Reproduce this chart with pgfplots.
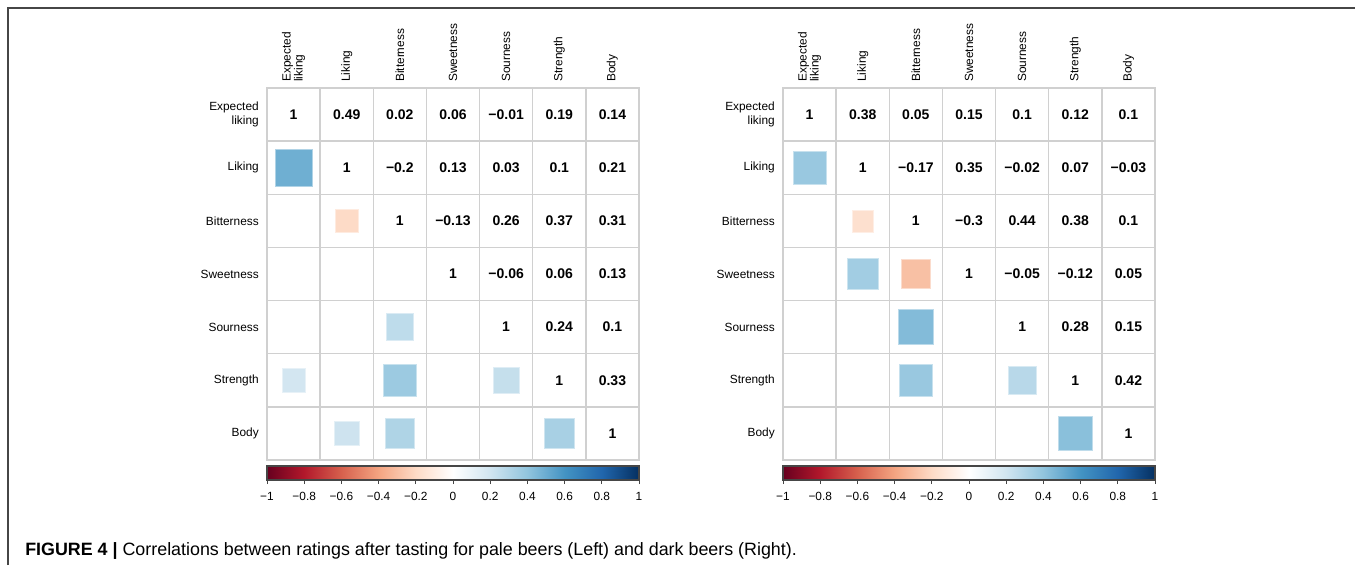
\documentclass[border=0pt]{standalone}
\usepackage{fontspec}
\setmainfont{Liberation Sans}
\usepackage{pgfplots}
\usepackage{pgfplotstable}
\pgfplotsset{compat=1.18}
\definecolor{gridgray}{RGB}{208,208,208}
\definecolor{framegray}{RGB}{70,70,70}
\pgfplotsset{
  colormap={rdbu}{rgb255=(103,0,31) rgb255=(178,24,43) rgb255=(214,96,77) rgb255=(244,165,130) rgb255=(253,219,199) rgb255=(255,255,255) rgb255=(209,229,240) rgb255=(146,197,222) rgb255=(67,147,195) rgb255=(33,102,172) rgb255=(5,48,97)},
  corrmat/.style={
    scale only axis, width=279pt, height=279pt,
    xmin=0.5, xmax=7.5, ymin=0.5, ymax=7.5,
    xtick={1,...,7}, ytick={1,...,7},
    minor xtick={0.5,1.5,...,7.5}, minor ytick={0.5,1.5,...,7.5},
    grid=minor, minor grid style={draw=gridgray, line width=1pt},
    axis line style={draw=gridgray, line width=1pt},
    major tick length=0pt, minor tick length=0pt,
    xticklabel pos=upper,
    xticklabels={{Expected\\liking},Liking,Bitterness,Sweetness,Sourness,Strength,Body},
    yticklabels={Body,Strength,Sourness,Sweetness,Bitterness,Liking,{Expected\\liking}},
    xticklabel style={rotate=90, anchor=west, align=left, font=\fontsize{8.9}{9}\selectfont, inner sep=0pt},
    xticklabel shift=4.5pt,
    yticklabel style={anchor=east, align=right, font=\fontsize{8.9}{10.5}\selectfont, inner sep=0pt},
    yticklabel shift=6pt,
    colormap name=rdbu, point meta min=-1, point meta max=1,
  },
  sq/.style={scatter, only marks, mark=square*, point meta=\thisrow{r},
    scatter/use mapped color={draw=mapped color!55!white, fill=mapped color},
    visualization depends on={sqrt(abs(\thisrow{r}))*19.9 \as \msz},
    scatter/@pre marker code/.append style={/tikz/mark size=\msz pt},
    mark options={line width=0.4pt}},
  nums/.style={only marks, mark=none, nodes near coords, point meta=explicit symbolic,
    nodes near coords style={anchor=center, text=black, font=\bfseries\fontsize{10.5}{12}\selectfont}},
  cbar/.style={scale only axis, width=279pt, height=10.5pt,
    xmin=-1, xmax=1, ymin=0, ymax=1, ytick=\empty,
    xtick={-1,-0.8,-0.6,-0.4,-0.2,0,0.2,0.4,0.6,0.8,1},
    xticklabels={−1,−0.8,−0.6,−0.4,−0.2,0,0.2,0.4,0.6,0.8,1},
    xtick pos=bottom, tick align=outside, major tick length=3pt,
    tick style={draw=framegray, line width=0.6pt},
    axis line style={draw=framegray, line width=0.9pt},
    xticklabel style={font=\fontsize{8.9}{10}\selectfont, inner sep=0pt},
    xticklabel shift=6pt,
    axis on top,
    colormap name=rdbu, point meta min=-1, point meta max=1},
}
% colour bar samples
\pgfplotstableread{
x y
-1 0
-0.8 0
-0.6 0
-0.4 0
-0.2 0
0 0
0.2 0
0.4 0
0.6 0
0.8 0
1 0
-1 1
-0.8 1
-0.6 1
-0.4 1
-0.2 1
0 1
0.2 1
0.4 1
0.6 1
0.8 1
1 1
}\cbdata
% pale beers: significant correlations (squares)
\pgfplotstableread{
col row r
1 2 0.49
2 3 -0.2
3 5 0.26
1 6 0.19
3 6 0.37
5 6 0.24
2 7 0.21
3 7 0.31
6 7 0.33
}\sqL
% dark beers
\pgfplotstableread{
col row r
1 2 0.38
2 3 -0.17
2 4 0.35
3 4 -0.3
3 5 0.44
3 6 0.38
5 6 0.28
6 7 0.42
}\sqR
\pgfplotstableread{
col row t
1 1 1
2 1 0.49
3 1 0.02
4 1 0.06
5 1 −0.01
6 1 0.19
7 1 0.14
2 2 1
3 2 −0.2
4 2 0.13
5 2 0.03
6 2 0.1
7 2 0.21
3 3 1
4 3 −0.13
5 3 0.26
6 3 0.37
7 3 0.31
4 4 1
5 4 −0.06
6 4 0.06
7 4 0.13
5 5 1
6 5 0.24
7 5 0.1
6 6 1
7 6 0.33
7 7 1
}\numL
\pgfplotstableread{
col row t
1 1 1
2 1 0.38
3 1 0.05
4 1 0.15
5 1 0.1
6 1 0.12
7 1 0.1
2 2 1
3 2 −0.17
4 2 0.35
5 2 −0.02
6 2 0.07
7 2 −0.03
3 3 1
4 3 −0.3
5 3 0.44
6 3 0.38
7 3 0.1
4 4 1
5 4 −0.05
6 4 −0.12
7 4 0.05
5 5 1
6 5 0.28
7 5 0.15
6 6 1
7 6 0.42
7 7 1
}\numR
\begin{document}
\begin{tikzpicture}
\useasboundingbox (0,0) rectangle (1016.25pt,423.75pt);
\draw[framegray, line width=1.2pt] (6pt,0) -- (6pt,417.75pt) -- (1016.25pt,417.75pt);
% left matrix
\begin{axis}[corrmat, at={(200.25pt,78.75pt)}, anchor=south west]
\addplot[sq] table[x=col, y expr=8-\thisrow{row}] \sqL;
\addplot[nums] table[x=col, y expr=8-\thisrow{row}, meta=t] \numL;
\end{axis}
\begin{axis}[cbar, at={(200.25pt,63.75pt)}, anchor=south west]
\addplot[surf, shader=interp, mesh/cols=11, point meta=x] table[x=x, y=y] \cbdata;
\end{axis}
% right matrix
\begin{axis}[corrmat, at={(587.25pt,78.75pt)}, anchor=south west]
\addplot[sq] table[x=col, y expr=8-\thisrow{row}] \sqR;
\addplot[nums] table[x=col, y expr=8-\thisrow{row}, meta=t] \numR;
\end{axis}
\begin{axis}[cbar, at={(587.25pt,63.75pt)}, anchor=south west]
\addplot[surf, shader=interp, mesh/cols=11, point meta=x] table[x=x, y=y] \cbdata;
\end{axis}
\node[anchor=base west, inner sep=0pt, font=\fontsize{13.4}{15}\selectfont] at (18.75pt,7.5pt)
  {\textbf{FIGURE 4 |} Correlations between ratings after tasting for pale beers (Left) and dark beers (Right).};
\end{tikzpicture}
\end{document}
